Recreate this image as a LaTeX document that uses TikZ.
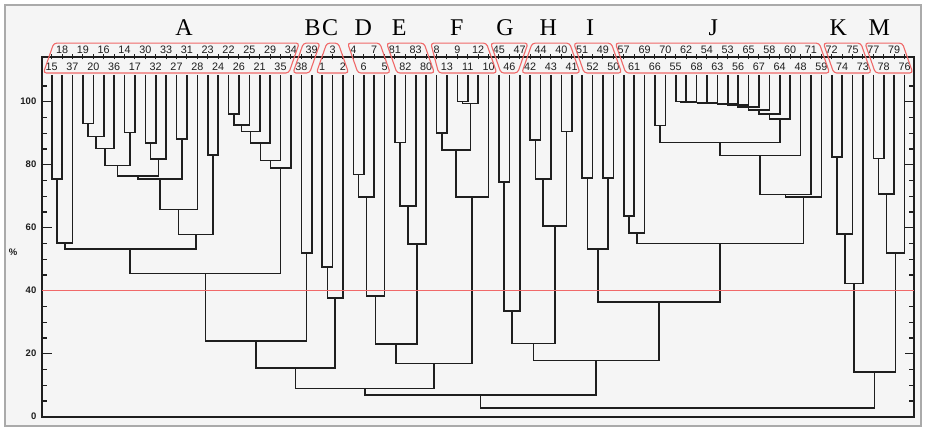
\documentclass[tikz,border=0pt]{standalone}
\usepackage{fontspec}
\setmainfont{Liberation Serif}
\newfontfamily\labfont{Liberation Sans}
\usetikzlibrary{calc}
\definecolor{bg}{RGB}{245,245,245}
\definecolor{ink}{RGB}{30,30,30}
\definecolor{hl}{RGB}{240,105,105}
\definecolor{rim}{RGB}{170,170,170}

% join two clusters #2 and #3 at similarity #4 (percent); the new cluster is #1
\newcommand\joinpair[4]{%
  \path ($(#2)!0.5!(#3)$) coordinate (#1-x);
  \coordinate (#1) at (#1-x |- 0,#4);
  \draw[dendro] (#2) |- (#1) -| (#3);
}
% group outline: top-left, top-right, bottom-left, bottom-right (leaf units)
\newcommand\grpbox[4]{%
  \draw[grpline] (#1,118.6) -- (#2,118.6) -- (#4,109.1) -- (#3,109.1) -- cycle;
}

\begin{document}
\begin{tikzpicture}[x=1pt,y=1pt,
  dendro/.style={draw=ink, line width=1.6pt},
  frameline/.style={draw=ink, line width=1.6pt},
  tickline/.style={draw=ink, line width=1.3pt},
  cutline/.style={draw=hl, line width=1.3pt},
  grpline/.style={draw=hl, line width=1.1pt, rounded corners=3pt},
  leaflab/.style={font=\labfont\fontsize{10.8}{10.8}\selectfont, text=ink, inner sep=0pt},
  grplab/.style={font=\fontsize{24}{24}\selectfont, anchor=base, inner sep=0pt},
  axlab/.style={font=\labfont\bfseries\fontsize{9.5}{9.5}\selectfont, text=ink, anchor=east, inner sep=0pt}]
\useasboundingbox (0,0) rectangle (925,428);
\fill[white] (0,0) rectangle (925,428);
\draw[rim, line width=1.5pt, fill=bg] (5,2) rectangle (921,423);

% plot frame
\draw[frameline] (42,11.3) -- (914,11.3) -- (914,371) -- (42,371) -- cycle;

% similarity axis (y in percent)
\begin{scope}[shift={(0,11.3)}, y=3.15pt]
  \foreach \p in {0,5,...,105} {
    \draw[tickline] (42,\p) -- (47,\p);
    \draw[tickline] (914,\p) -- (909,\p);
  }
  \foreach \p in {0,20,...,100} {
    \draw[tickline] (42,\p) -- (52,\p);
    \draw[tickline] (914,\p) -- (905,\p);
    \node[axlab] (ax\p) at (36.5,\p) {\p};
  }
  \node[font=\labfont\bfseries\fontsize{9.5}{9.5}\selectfont, text=ink] (pct) at (13,52.3) {\%};
\end{scope}

% dendrogram: x in leaf positions, y in percent
\begin{scope}[shift={(51.7,11.3)}, x=10.4pt, y=3.15pt]
  \draw[tickline] (-0.93,114.2) -- (82.9,114.2);
  \foreach \lab [count=\i from 0] in {15,18,37,19,20,16,36,14,17,30,32,33,27,31,28,23,24,22,26,25,21,29,35,34,38,39,1,3,2,4,6,7,5,81,82,83,80,8,13,9,11,12,10,45,46,47,42,44,43,40,41,51,52,49,50,57,61,69,66,70,55,62,68,54,63,53,56,65,67,58,64,60,48,71,59,72,74,75,73,77,78,79,76} {
    \pgfmathsetmacro\ly{isodd(\i) ? 116.4 : 111.0}
    \coordinate (n\lab) at (\i,108.5);
    \node[leaflab] (lab\lab) at (\i,\ly) {\lab};
    \draw[tickline, line width=0.9pt] (\i,113.4) -- (\i,115.0);
  }

  % group A
  \joinpair{a1}{n15}{n18}{75.5}
  \joinpair{a2}{a1}{n37}{55.2}
  \joinpair{a3}{n19}{n20}{93.1}
  \joinpair{a4}{a3}{n16}{88.9}
  \joinpair{a5}{a4}{n36}{85.2}
  \joinpair{a6}{n14}{n17}{90.2}
  \joinpair{a7}{a5}{a6}{79.7}
  \joinpair{a8}{n30}{n32}{86.8}
  \joinpair{a9}{a8}{n33}{81.8}
  \joinpair{a10}{n27}{n31}{88.1}
  \joinpair{a11}{a7}{a9}{76.4}
  \joinpair{a12}{a11}{a10}{75.4}
  \joinpair{a13}{a12}{n28}{65.8}
  \joinpair{a14}{n23}{n24}{83.1}
  \joinpair{a15}{a13}{a14}{57.9}
  \joinpair{a16}{a2}{a15}{53.2}
  \joinpair{a17}{n22}{n26}{96.1}
  \joinpair{a18}{a17}{n25}{92.6}
  \joinpair{a19}{a18}{n21}{90.5}
  \joinpair{a20}{a19}{n29}{86.8}
  \joinpair{a21}{a20}{n35}{81.3}
  \joinpair{a22}{a21}{n34}{78.9}
  \joinpair{a23}{a16}{a22}{45.5}
  % group B
  \joinpair{b1}{n38}{n39}{51.9}
  \joinpair{ab}{a23}{b1}{24.0}
  % group C
  \joinpair{c1}{n1}{n3}{47.6}
  \joinpair{c2}{c1}{n2}{37.6}
  \joinpair{abc}{ab}{c2}{15.4}
  % group D
  \joinpair{d1}{n4}{n6}{76.9}
  \joinpair{d2}{d1}{n7}{69.8}
  \joinpair{d3}{d2}{n5}{38.4}
  % group E
  \joinpair{e1}{n81}{n82}{87.0}
  \joinpair{e2}{e1}{n83}{66.9}
  \joinpair{e3}{e2}{n80}{54.8}
  \joinpair{de}{d3}{e3}{23.1}
  % group F
  \joinpair{f1}{n8}{n13}{90.0}
  \joinpair{f2}{n9}{n11}{100.0}
  \joinpair{f3}{f2}{n12}{99.4}
  \joinpair{f4}{f1}{f3}{84.7}
  \joinpair{f5}{f4}{n10}{69.7}
  \joinpair{def}{de}{f5}{16.9}
  \joinpair{af}{abc}{def}{9.0}
  % group G
  \joinpair{g1}{n45}{n46}{74.6}
  \joinpair{g2}{g1}{n47}{33.6}
  % group H
  \joinpair{h1}{n42}{n44}{87.8}
  \joinpair{h2}{h1}{n43}{75.5}
  \joinpair{h3}{n40}{n41}{90.5}
  \joinpair{h4}{h2}{h3}{60.6}
  \joinpair{gh}{g2}{h4}{23.3}
  % group I
  \joinpair{i1}{n51}{n52}{75.7}
  \joinpair{i2}{n49}{n50}{75.7}
  \joinpair{i3}{i1}{i2}{53.2}
  % group J
  \joinpair{j1}{n57}{n61}{63.7}
  \joinpair{j2}{j1}{n69}{58.4}
  \joinpair{j3}{n66}{n70}{92.4}
  \joinpair{k01}{n55}{n62}{100.0}
  \joinpair{k02}{k01}{n68}{99.85}
  \joinpair{k03}{k02}{n54}{99.7}
  \joinpair{k04}{k03}{n63}{99.55}
  \joinpair{k05}{k04}{n53}{99.4}
  \joinpair{k06}{k05}{n56}{99.2}
  \joinpair{k07}{k06}{n65}{98.9}
  \joinpair{k08}{k07}{n67}{98.3}
  \joinpair{k09}{k08}{n58}{97.4}
  \joinpair{k10}{k09}{n64}{96.0}
  \joinpair{k11}{k10}{n60}{94.6}
  \joinpair{j4}{j3}{k11}{87.0}
  \joinpair{j5}{j4}{n48}{82.9}
  \joinpair{j6}{j5}{n71}{70.6}
  \joinpair{j7}{j6}{n59}{69.8}
  \joinpair{j8}{j2}{j7}{55.0}
  \joinpair{ij}{i3}{j8}{36.5}
  \joinpair{gj}{gh}{ij}{17.8}
  \joinpair{aj}{af}{gj}{6.9}
  % group K
  \joinpair{q1}{n72}{n74}{82.5}
  \joinpair{q2}{q1}{n75}{58.0}
  \joinpair{q3}{q2}{n73}{42.3}
  % group M
  \joinpair{m1}{n77}{n78}{82.0}
  \joinpair{m2}{m1}{n79}{70.7}
  \joinpair{m3}{m2}{n76}{51.9}
  \joinpair{km}{q3}{m3}{14.1}
  \joinpair{root}{aj}{km}{2.7}

  % 40 % cut level
  \draw[cutline] (-0.93,40) -- (82.9,40);

  % group outlines
  \grpbox{0.2}{23.8}{-0.8}{22.8}
  \grpbox{24.2}{25.8}{23.2}{24.8}
  \grpbox{26.45}{27.55}{25.45}{28.55}
  \grpbox{28.45}{31.55}{29.45}{32.55}
  \grpbox{32.2}{35.8}{33.2}{36.8}
  \grpbox{36.45}{41.8}{37.2}{42.8}
  \grpbox{42.2}{45.8}{43.2}{44.8}
  \grpbox{46.2}{49.8}{45.2}{50.8}
  \grpbox{50.2}{53.8}{51.2}{54.8}
  \grpbox{54.2}{73.8}{55.2}{74.8}
  \grpbox{74.2}{77.8}{75.2}{78.8}
  \grpbox{78.2}{81.8}{79.2}{82.8}
\end{scope}

% group letters
\foreach \g/\gx in {A/184,B/312.7,C/330,D/363.3,E/399.3,F/456.7,G/505,H/548.3,I/590,J/713.3,K/838.3,M/879.3}
  \node[grplab] (grp\g) at (\gx,392) {\g};
\end{tikzpicture}
\end{document}
